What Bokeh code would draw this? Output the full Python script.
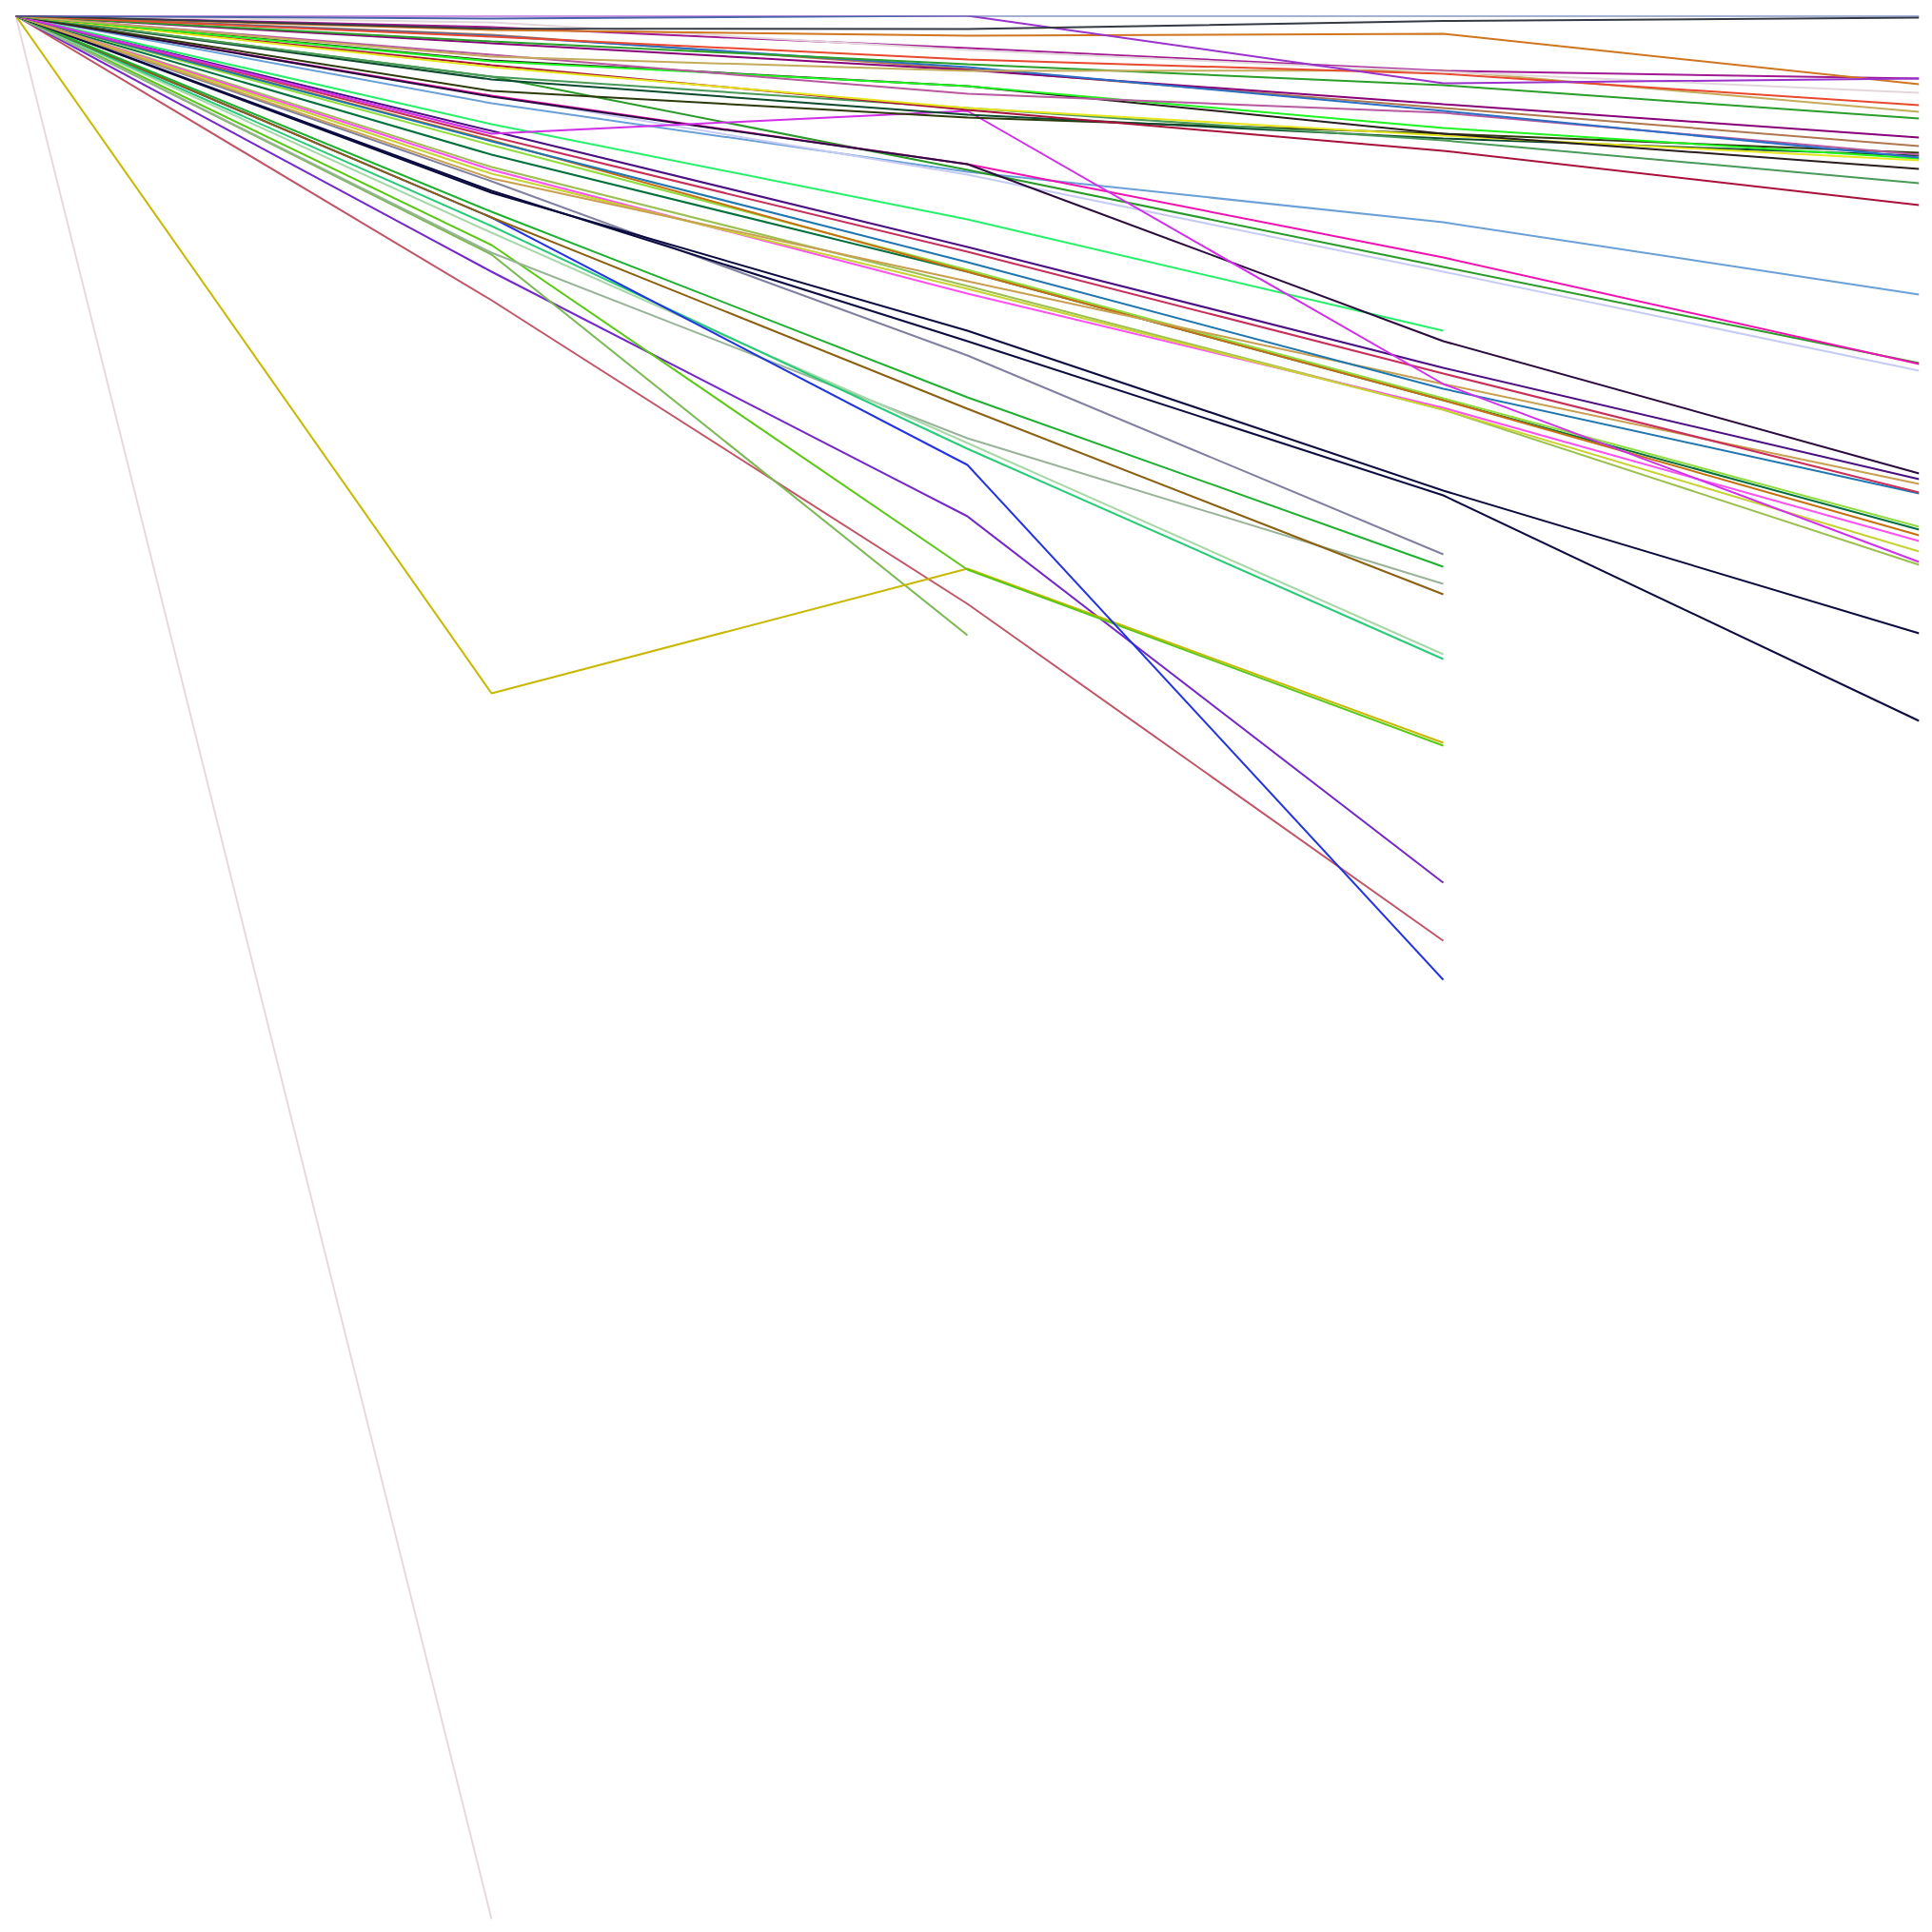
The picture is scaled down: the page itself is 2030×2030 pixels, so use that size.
from bokeh.plotting import figure
from bokeh.models import Range1d
from bokeh.embed import file_html
from bokeh.resources import INLINE

steps = [0, 1, 2, 3, 4]

s_pale_pink = [0, -100]
s_steel_blue = [0, -0.15, 0, 0, 0]
s_dark_gray = [0, -0.68, -0.7, -0.28, -0.1]
s_orchid = [0, 0, 0, -3.55, -3.3]
s_orange = [0, -0.75, -1.05, -0.95, -3.6]
s_light_gray = [0, -0.35, -1.8, -2.95, -4.05]
s_magenta = [0, -0.6, -1.7, -2.9, -3.3]
s_red_orange = [0, -1.1, -2.3, -3.05, -4.7]
s_tan = [0, -2.15, -2.9, -2.88, -5.05]
s_green = [0, -1.35, -2.55, -3.65, -5.4]
s_blue = [0, -1.05, -2.7, -5.0, -7.45]
s_purple = [0, -1.45, -2.85, -4.65, -6.4]
s_brown = [0, -1.0, -2.8, -4.85, -6.85]
s_mauve = [0, -2.05, -4.1, -5.1, -7.3]
s_bright_green = [0, -2.4, -3.7, -5.9, -7.5]
s_dark_brown = [0, -2.35, -3.7, -6.2, -8.05]
s_yellow = [0, -2.7, -4.85, -6.3, -7.6]
s_crimson = [0, -2.6, -4.95, -7.1, -9.95]
s_sea_green = [0, -3.2, -4.85, -6.55, -8.8]
s_dark_green = [0, -3.35, -5.2, -6.45, -7.35]
s_dark_olive = [0, -3.95, -5.35, -6.2, -7.2]
s_violet_magenta = [0, -6.2, -5.0, -19.35, -28.7]
s_dark_purple = [0, -4.25, -7.8, -17.1, -24.05]
s_hot_pink = [0, -4.2, -7.8, -12.7, -18.3]
s_forest = [0, -3.2, -8.1, -13.2, -18.25]
s_lavender = [0, -4.2, -8.35, -13.45, -18.65]
s_light_blue = [0, -4.6, -8.2, -10.85, -14.65]
s_spring = [0, -5.7, -10.7, -16.55]
s_indigo = [0, -6.05, -12.15, -18.5, -24.35]
s_rose = [0, -6.35, -12.4, -18.8, -25.05]
s_steel = [0, -6.6, -12.95, -19.6, -25.1]
s_tan_gold = [0, -8.55, -13.95, -19.35, -24.6]
s_yellow_green = [0, -8.3, -14.35, -20.7, -28.15]
s_pink = [0, -8.1, -14.6, -20.6, -27.6]
s_orange_brown = [0, -6.55, -13.45, -20.2, -27.3]
s_light_green = [0, -6.8, -13.35, -20.1, -26.85]
s_green_dark2 = [0, -7.3, -13.45, -20.2, -27.0]
s_olive_lime = [0, -7.95, -14.2, -20.7, -28.85]
s_navy_a = [0, -9.3, -16.55, -24.95, -32.45]
s_navy_b = [0, -9.2, -17.1, -25.2, -37.05]
s_gray_purple = [0, -8.7, -17.85, -28.3]
s_green3 = [0, -10.3, -20.05, -28.95]
s_brown2 = [0, -10.6, -20.65, -30.4]
s_blue2 = [0, -10.6, -23.6, -50.65]
s_teal = [0, -11.05, -22.75, -33.8]
s_pale_green = [0, -11.4, -22.45, -33.55]
s_gray_green = [0, -12.45, -22.2, -29.85]
s_lime = [0, -12.05, -29.1, -38.35]
s_yellow_olive = [0, -35.6, -29.05, -38.2]
s_olive_green = [0, -12.55, -32.55]
s_violet = [0, -13.45, -26.3, -45.55]
s_red = [0, -14.95, -30.9, -48.6]

series = [
    (s_pale_pink, "#e8d6e0"),
    (s_red, "#c05565"),
    (s_violet, "#7428c8"),
    (s_olive_green, "#7ab850"),
    (s_yellow_olive, "#c8b800"),
    (s_lime, "#5ac814"),
    (s_gray_green, "#99b399"),
    (s_pale_green, "#a8d8a8"),
    (s_teal, "#28cc78"),
    (s_blue2, "#2233e0"),
    (s_brown2, "#8b6010"),
    (s_green3, "#20b030"),
    (s_gray_purple, "#8080a0"),
    (s_navy_b, "#0b0b3f"),
    (s_navy_a, "#0b0b3f"),
    (s_olive_lime, "#9bc050"),
    (s_green_dark2, "#00703c"),
    (s_light_green, "#90dd40"),
    (s_orange_brown, "#c87010"),
    (s_pink, "#ff50f0"),
    (s_yellow_green, "#c8d232"),
    (s_tan_gold, "#c8a050"),
    (s_steel, "#2077b0"),
    (s_rose, "#c8305a"),
    (s_indigo, "#4a0f80"),
    (s_spring, "#27f06a"),
    (s_light_blue, "#6aa0d8"),
    (s_lavender, "#c8ccf5"),
    (s_forest, "#2a9a2a"),
    (s_hot_pink, "#f012b0"),
    (s_dark_purple, "#2b0a3d"),
    (s_violet_magenta, "#d030e8"),
    (s_dark_olive, "#2d3a0b"),
    (s_dark_green, "#0e4a2e"),
    (s_sea_green, "#4a9a5a"),
    (s_crimson, "#a8123a"),
    (s_yellow, "#e6e61e"),
    (s_dark_brown, "#2b1e1e"),
    (s_bright_green, "#1ff51f"),
    (s_mauve, "#b85aa0"),
    (s_brown, "#b07850"),
    (s_purple, "#880077"),
    (s_blue, "#2a6ec5"),
    (s_green, "#2a9f2a"),
    (s_tan, "#c4ac5c"),
    (s_red_orange, "#e84a2f"),
    (s_magenta, "#a11a92"),
    (s_light_gray, "#e3d7dc"),
    (s_orange, "#d07520"),
    (s_orchid, "#9933cc"),
    (s_dark_gray, "#353a45"),
    (s_steel_blue, "#4a64a8"),
]

p = figure(width=2022, height=2022, output_backend="svg", toolbar_location=None,
           x_axis_type=None, y_axis_type=None,
           x_range=Range1d(0, 4), y_range=Range1d(-100, 0),
           min_border_left=16, min_border_right=6,
           min_border_top=16, min_border_bottom=6)
p.grid.visible = False
p.outline_line_color = None
p.background_fill_color = "white"
p.border_fill_color = "white"

for vals, col in series:
    p.line(steps[:len(vals)], vals, line_color=col, line_width=2)

open("out.html", "w").write(file_html(p, INLINE))
